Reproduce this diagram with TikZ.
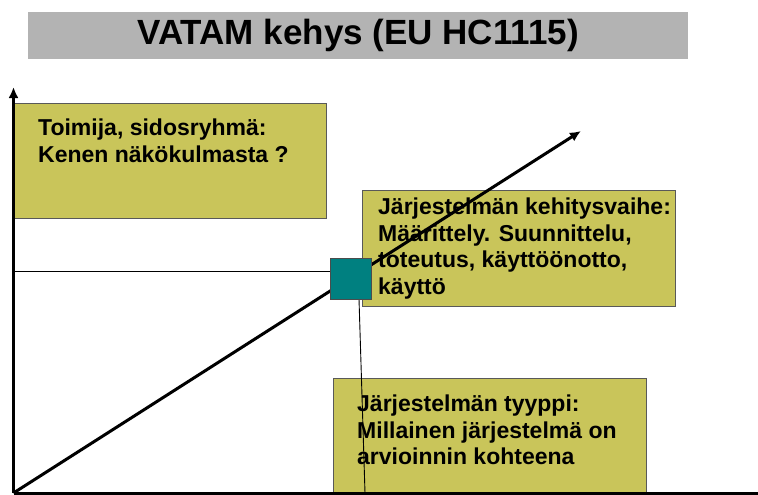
\documentclass[tikz,border=0pt]{standalone}
\usepackage{fontspec}
\setmainfont{Liberation Sans}
\usepackage{tikz}
\usetikzlibrary{arrows.meta}
\definecolor{panelyellow}{RGB}{201,197,90}
\definecolor{titlegray}{RGB}{179,179,179}
\definecolor{stageteal}{RGB}{0,128,128}
\tikzstyle{panel}=[rectangle, fill=panelyellow, draw=black!65, line width=0.8, anchor=north west, inner sep=0]
\tikzstyle{paneltext}=[anchor=north west, inner sep=0, align=left, font=\fontsize{23}{26.5}\selectfont\bfseries]
\tikzstyle{axis}=[-{Latex[length=11pt,width=10pt]}, draw=black, line width=3]
\tikzstyle{guide}=[-, draw=black, line width=0.9]
\tikzstyle{stage}=[rectangle, fill=stageteal, draw=black!70, line width=0.8, minimum size=41pt, inner sep=0]
\pgfdeclarelayer{panellayer}
\pgfdeclarelayer{edgelayer}
\pgfdeclarelayer{nodelayer}
\pgfsetlayers{panellayer,edgelayer,main,nodelayer}

\begin{document}
\begin{tikzpicture}[x=1pt, y=-1pt]
            \useasboundingbox (0, 0) rectangle (758, 495);
            \begin{pgfonlayer}{panellayer}
                \node [fill=titlegray, anchor=north west, minimum width=660pt, minimum height=47pt, font=\fontsize{35}{40}\selectfont\bfseries] (title) at (28, 12) {VATAM kehys (EU HC1115)};

                \node [style=panel, minimum width=312pt, minimum height=115pt] (actor) at (14, 103) {};
                \node [style=panel, minimum width=313pt, minimum height=116pt] (phase) at (362, 190) {};
                \node [style=panel, minimum width=313pt, minimum height=115pt] (kind) at (333, 378) {};

                \node [style=paneltext] (actortext) at (38, 119) {Toimija, sidosryhmä:\\Kenen näkökulmasta ?};
                \node [style=paneltext] (phasetext) at (378, 198) {Järjestelmän kehitysvaihe:\\Määrittely. Suunnittelu,\\toteutus, käyttöönotto,\\käyttö};
                \node [style=paneltext] (kindtext) at (357, 395) {Järjestelmän tyyppi:\\Millainen järjestelmä on\\arvioinnin kohteena};
            \end{pgfonlayer}
            \begin{pgfonlayer}{nodelayer}
                \node [style=stage] (point) at (350.5, 278.5) {};
            \end{pgfonlayer}
            \coordinate (origin) at (13.5, 493);
            \coordinate (ytip) at (13.5, 87);
            \coordinate (xend) at (758, 493);
            \coordinate (ztip) at (581, 131);
            \coordinate (ymark) at (13.5, 271);
            \coordinate (kindtop) at (359, 299);
            \coordinate (kindfoot) at (365, 493);
            \begin{pgfonlayer}{edgelayer}
                \draw [style=axis] (origin) to (ytip);
                \draw [style=axis, -] (origin) to (xend);
                \draw [style=axis] (origin) to (ztip);
                \draw [style=guide] (ymark) to (ymark -| point.west);
                \draw [style=guide] (kindtop) to (kindfoot);
            \end{pgfonlayer}
        \end{tikzpicture}
\end{document}
